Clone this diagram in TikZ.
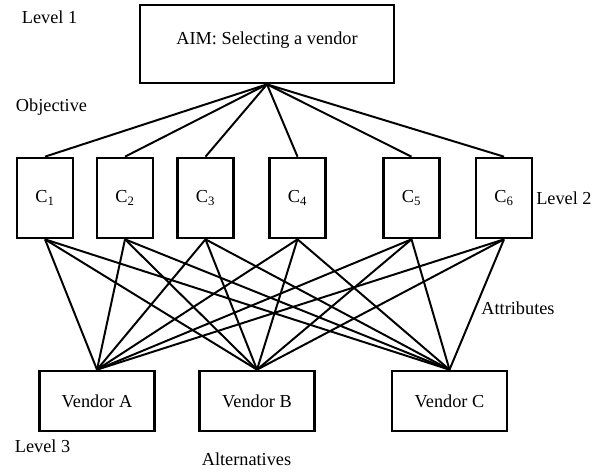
\documentclass[tikz,border=0pt]{standalone}
\usepackage{fontspec}
\setmainfont{Liberation Serif}
\usepackage{tikz}
\usetikzlibrary{positioning}

\begin{document}
\begin{tikzpicture}[
  font=\fontsize{13}{15}\selectfont,
  box/.style={draw,line width=1.9pt,align=center,inner sep=0pt},
  crit/.style={box,minimum width=1.4cm,minimum height=2cm},
  vend/.style={box,minimum width=2.875cm,minimum height=1.5cm},
  ln/.style={line width=1.4pt}
]
\useasboundingbox (0,0) rectangle (15.05,11.8);

% level 1
\node[box,minimum width=6.35cm,minimum height=1.95cm,text depth=0.29cm] (aim) at (6.675,10.7) {AIM: Selecting a vendor};

% level 2
\node[crit] (c1) at (1.125,6.85) {C\textsubscript{1}};
\node[crit] (c2) at (3.125,6.85) {C\textsubscript{2}};
\node[crit] (c3) at (5.1375,6.85) {C\textsubscript{3}};
\node[crit] (c4) at (7.4375,6.85) {C\textsubscript{4}};
\node[crit] (c5) at (10.2875,6.85) {C\textsubscript{5}};
\node[crit] (c6) at (12.6,6.85) {C\textsubscript{6}};

% level 3
\node[vend] (va) at (2.425,1.775) {Vendor A};
\node[vend] (vb) at (6.425,1.775) {Vendor B};
\node[vend] (vc) at (11.2375,1.775) {Vendor C};

\foreach \i in {1,...,6}
  \draw[ln] (aim.south) -- (c\i.north);
\foreach \i in {1,...,6}
  \foreach \v in {va,vb,vc}
    \draw[ln] (c\i.south) -- (\v.north);

% side labels
\node (lev1) at (1.2375,11.375) {Level 1};
\node (obj) at (1.2875,9.1125) {Objective};
\node[right=-0.05cm of c6] (lev2) {Level 2};
\node (attr) at (12.95,4.1) {Attributes};
\node (lev3) at (1.0625,0.6375) {Level 3};
\node (alt) at (6.1625,0.3125) {Alternatives};
\end{tikzpicture}
\end{document}
